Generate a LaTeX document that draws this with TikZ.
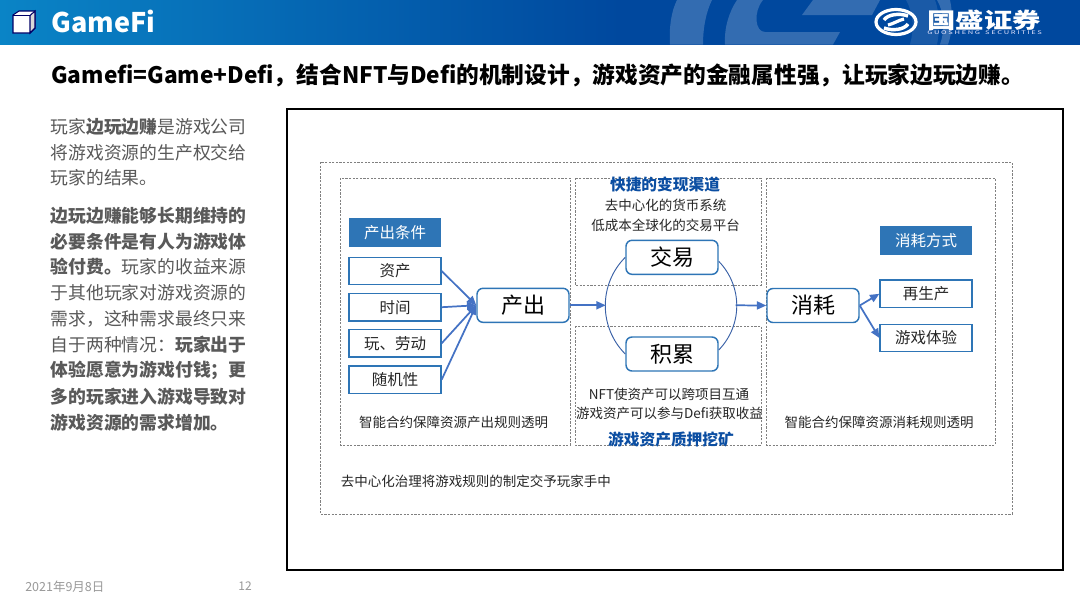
\documentclass[tikz,border=0pt]{standalone}
\usepackage{graphicx}
\usepackage{fontspec}
\setmainfont{Noto Sans CJK SC}
\usetikzlibrary{arrows.meta,shadings}
\definecolor{hdrL}{HTML}{0A84C6}
\definecolor{hdrR}{HTML}{00489E}
\definecolor{cblue}{HTML}{2E75B6}
\definecolor{lblue}{HTML}{4472C4}
\definecolor{headblue}{HTML}{0B4EA2}
\definecolor{txt}{HTML}{595959}
\definecolor{dash}{HTML}{808080}
\newcommand{\px}[1]{\fontsize{\dimexpr #1pt*3/4\relax}{\dimexpr #1pt*9/10\relax}\selectfont}
\tikzset{
  dbox/.style={draw=dash,dash pattern=on 1.6pt off 1.1pt,line width=0.55pt},
  condbox/.style={draw=cblue,line width=0.95pt,fill=white,text=black!85,inner sep=0pt,font=\px{15.5}},
  headbox/.style={fill=cblue,text=white,inner sep=0pt,font=\px{15.5}},
  mainbox/.style={draw=cblue,line width=1.1pt,fill=white,rounded corners=4.5pt,text=black,inner sep=0pt,font=\px{22}},
  small/.style={text=black!85,inner sep=0pt,font=\px{13.5}},
  bluehead/.style={text=headblue,inner sep=0pt,font=\px{15.7}\bfseries},
  side/.style={anchor=west,inner sep=0pt,text=txt,font=\px{17.8}},
  conn/.style={draw=lblue,line width=1.3pt,-{Triangle[length=7pt,width=6pt]}},
  ring/.style={draw=lblue!85!black,line width=0.7pt},
  wmark/.style={fill=white,opacity=0.2},
}
\begin{document}
\begin{tikzpicture}[x=0.75pt,y=-0.75pt]
\useasboundingbox (0,0) rectangle (1080,607);
\fill[white] (0,0) rectangle (1080,607);
% header
\shade[left color=hdrL,right color=hdrR] (0,0) rectangle (621,44.5);
\fill[hdrR] (620,0) rectangle (1080,44.5);
\begin{scope}
\clip (0,0) rectangle (1080,44.5);
\fill[wmark] (677,0) .. controls (671,12) and (669,28) .. (670,44.5) -- (703,44.5) .. controls (703,28) and (706,12) .. (712,0) -- cycle;
\fill[wmark] (737,0) .. controls (729,12) and (724,28) .. (725,44.5) -- (833,44.5) -- (840,32) -- (765,32) .. controls (755,32) and (753,12) .. (763,0) -- cycle;
\fill[wmark] (813,0) -- (802,15) -- (872,15) -- (880,0) -- cycle;
\fill[white,opacity=0.1] (906,0) .. controls (914,14) and (914,30) .. (910,44.5) -- (937,44.5) .. controls (940,30) and (940,14) .. (935,0) -- cycle;
\fill[wmark] (937,0) .. controls (945,14) and (945,30) .. (940,44.5) -- (948,44.5) .. controls (953,30) and (953,14) .. (950,0) -- cycle;
\end{scope}
% cube icon
\fill[white,draw=blue!40!black,line width=0.8pt] (13,15) -- (19,11) -- (35,11) -- (35,28) -- (30,33) -- (13,33) -- cycle;
\fill[black!15,draw=blue!40!black,line width=0.8pt] (30,15.5) -- (35,11) -- (35,28) -- (30,33) -- cycle;
\draw[blue!40!black,line width=0.8pt] (13,15.5) -- (30,15.5);
\node[anchor=west,inner sep=0pt,text=white,font=\px{27}\bfseries] (hdr) at (51,21.5) {GameFi};
% logo
\draw[white,line width=2.4pt] (896,22) ellipse (20 and 12.5);
\draw[white,line width=2.6pt] (884,20) .. controls (888,14) and (900,13) .. (908,16);
\draw[white,line width=2.6pt] (908,24) .. controls (904,30) and (892,31) .. (884,28);
\draw[white,line width=2.4pt] (888,25) .. controls (893,24) and (899,20) .. (904,19);
\node[anchor=west,inner sep=0pt,text=white,font=\px{21.5}\bfseries] (logoa) at (927,20.5) {\scalebox{1.32}[1]{国盛证券}};
\node[anchor=west,inner sep=0pt,text=white!90!blue,font=\px{5}] (logob) at (927,33) {\scalebox{1.5}[1]{G U O S H E N G \ \ S E C U R I T I E S}};
% title
\node[anchor=west,inner sep=0pt,text=black,font=\px{22.7}\bfseries] (title) at (51,75) {Gamefi=Game+Defi，结合NFT与Defi的机制设计，游戏资产的金融属性强，让玩家边玩边赚。};
% side text
\node[side] (s1) at (50.5,126.5) {玩家\textbf{边玩边赚}是游戏公司};
\node[side] (s2) at (50.5,152.5) {将游戏资源的生产权交给};
\node[side] (s3) at (50.5,178) {玩家的结果。};
\node[side] (s4) at (50.5,215.5) {\textbf{边玩边赚能够长期维持的}};
\node[side] (s5) at (50.5,241.3) {\textbf{必要条件是有人为游戏体}};
\node[side] (s6) at (50.5,267) {\textbf{验付费。}玩家的收益来源};
\node[side] (s7) at (50.5,292.8) {于其他玩家对游戏资源的};
\node[side] (s8) at (50.5,318.5) {需求，这种需求最终只来};
\node[side] (s9) at (50.5,344.5) {自于两种情况：\textbf{玩家出于}};
\node[side] (s10) at (50.5,370.3) {\textbf{体验愿意为游戏付钱；更}};
\node[side] (s11) at (50.5,396.3) {\textbf{多的玩家进入游戏导致对}};
\node[side] (s12) at (50.5,422.5) {\textbf{游戏资源的需求增加。}};
% footer
\node[anchor=west,inner sep=0pt,text=black!40,font=\px{12.5}] (date) at (25,586.5) {2021年9月8日};
\node[anchor=center,inner sep=0pt,text=black!40,font=\px{12}] (pg) at (245,586.5) {12};
% frames
\draw[black,line width=1.5pt] (287,109) rectangle (1063,570);
\draw[dbox] (320,162) rectangle (1012,514);
\draw[dbox] (340,178) rectangle (570,445);
\draw[dbox] (575,178) rectangle (761,285);
\draw[dbox] (575,326) rectangle (761,445);
\draw[dbox] (766,178) rectangle (995,445);
% left column
\node[headbox,minimum width=92*0.75pt,minimum height=29*0.75pt] (h1) at (395,232.5) {产出条件};
\node[condbox,minimum width=92*0.75pt,minimum height=27.5*0.75pt] (c1) at (395,271) {资产};
\node[condbox,minimum width=92*0.75pt,minimum height=27.5*0.75pt] (c2) at (395,307.2) {时间};
\node[condbox,minimum width=92*0.75pt,minimum height=27.5*0.75pt] (c3) at (395,343.3) {玩、劳动};
\node[condbox,minimum width=92*0.75pt,minimum height=27.5*0.75pt] (c4) at (395,379.7) {随机性};
\node[mainbox,minimum width=92*0.75pt,minimum height=34*0.75pt] (prod) at (523,305.3) {产出};
\node[mainbox,minimum width=92*0.75pt,minimum height=34*0.75pt] (trade) at (672,257.3) {交易};
\node[mainbox,minimum width=92*0.75pt,minimum height=34*0.75pt] (accu) at (672,354) {积累};
\node[mainbox,minimum width=92*0.75pt,minimum height=34*0.75pt] (cons) at (813,305.5) {消耗};
\node[headbox,minimum width=92*0.75pt,minimum height=29*0.75pt] (h2) at (926,240.5) {消耗方式};
\node[condbox,minimum width=92*0.75pt,minimum height=27.5*0.75pt] (r1) at (926,293.8) {再生产};
\node[condbox,minimum width=92*0.75pt,minimum height=27.5*0.75pt] (r2) at (926,338) {游戏体验};
% connectors
\draw[conn] (c1.east) -- (prod.west);
\draw[conn] (c2.east) -- (prod.west);
\draw[conn] (c3.east) -- (prod.west);
\draw[conn] (c4.east) -- (prod.west);
\coordinate (ringL) at (605.7,305.3);
\coordinate (ringR) at (735.7,305.3);
\draw[conn] (prod.east) -- (ringL);
\draw[conn] (ringR) -- (cons.west);
\draw[ring] (trade.west) to[bend right=45] (accu.west);
\draw[ring] ([yshift=-3pt]trade.east) to[bend left=44] ([yshift=3pt]accu.east);
\draw[conn] (cons.east) -- (r1.west);
\draw[conn] (cons.east) -- (r2.west);
% texts
\node[bluehead] (t1) at (665,184.5) {快捷的变现渠道};
\node[small] (t2) at (665.5,205) {去中心化的货币系统};
\node[small] (t3) at (665.5,225) {低成本全球化的交易平台};
\node[small] (t4) at (669,394) {NFT使资产可以跨项目互通};
\node[small] (t5) at (669.5,413.5) {游戏资产可以参与Defi获取收益};
\node[bluehead] (t6) at (671,439.5) {游戏资产质押挖矿};
\node[small] (t7) at (453.5,422) {智能合约保障资源产出规则透明};
\node[small] (t8) at (879,422) {智能合约保障资源消耗规则透明};
\node[small,anchor=west] (t9) at (340.5,481.5) {去中心化治理将游戏规则的制定交予玩家手中};
\end{tikzpicture}
\end{document}
